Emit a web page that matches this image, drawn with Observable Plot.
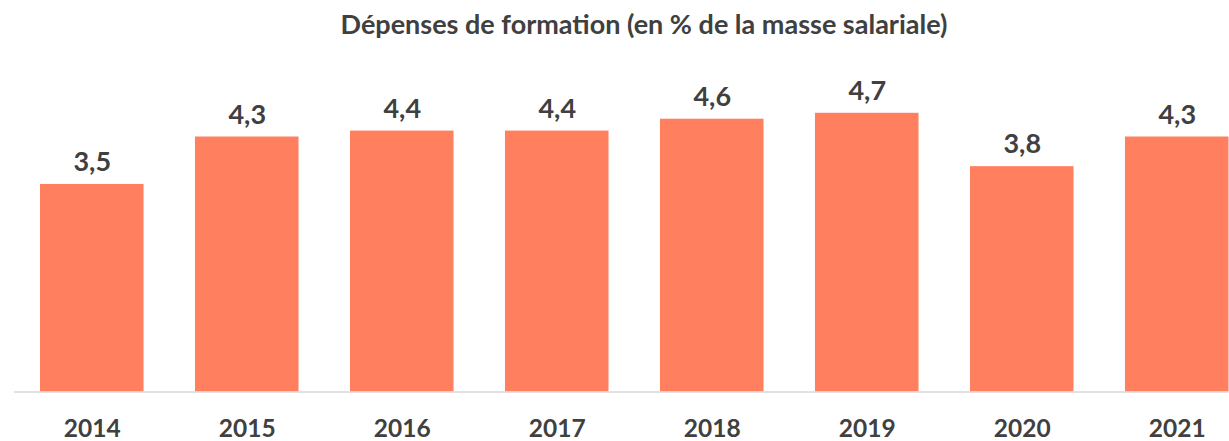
<!DOCTYPE html>
<html>
<head>
<meta charset="utf-8">
<script src="https://cdn.jsdelivr.net/npm/d3@7"></script>
<script src="https://cdn.jsdelivr.net/npm/@observablehq/plot@0.6"></script>
<style>
  html, body { margin: 0; padding: 0; background: #fff; }
  #title {
    height: 46px; line-height: 48px; margin-left: 59px;
    text-align: center; font-family: Lato, sans-serif; font-weight: bold;
    font-size: 27px; color: #404040;
  }
  svg { display: block; }
</style>
</head>
<body>
<div id="title">Dépenses de formation (en % de la masse salariale)</div>
<div id="chart"></div>
<script>
const years = ["2014", "2015", "2016", "2017", "2018", "2019", "2020", "2021"];
const values = [3.5, 4.3, 4.4, 4.4, 4.6, 4.7, 3.8, 4.3];
const data = years.map((y, i) => ({year: y, value: values[i]}));
const fmt = d => d.toFixed(1).replace(".", ",");

const chart = Plot.plot({
  width: 1229,
  height: 395,
  marginTop: 49,
  marginBottom: 49.5,
  marginLeft: 40,
  marginRight: 0.5,
  style: {fontFamily: "Lato, sans-serif", color: "#404040", background: "#fff"},
  x: {domain: years, paddingInner: 0.332, paddingOuter: 0, round: false, label: null},
  y: {domain: [0, 5], axis: null},
  marks: [
    Plot.barY(data, {x: "year", y: "value", fill: "#ff7f5e"}),
    Plot.ruleY([0], {stroke: "#d9d9d9", strokeWidth: 1.5, insetLeft: -26}),
    Plot.text(data, {x: "year", y: "value", text: d => fmt(d.value), dy: -22,
      fontSize: 27, fontWeight: "bold", fill: "#404040"}),
    Plot.axisX({tickSize: 0, tickPadding: 28, fontSize: 24.5, fontWeight: "bold", label: null, fill: "#404040"})
  ]
});
document.getElementById("chart").appendChild(chart);
</script>
</body>
</html>
